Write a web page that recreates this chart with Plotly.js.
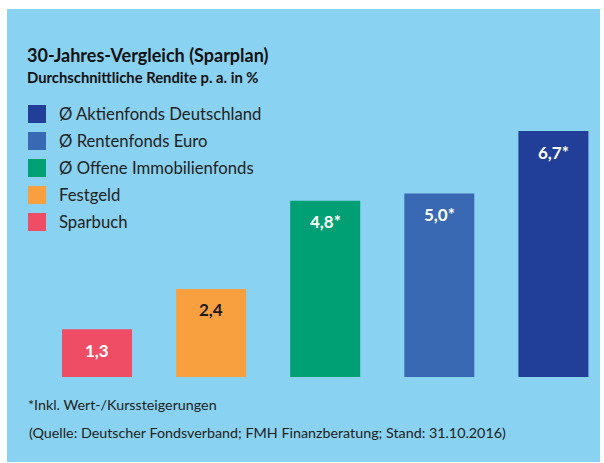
<!DOCTYPE html>
<html><head><meta charset="utf-8">
<script src="https://cdn.plot.ly/plotly-3.0.1.min.js"></script>
<style>html,body{margin:0;padding:0;background:#fff}#chart{width:604px;height:463px}</style>
</head><body><div id="chart"></div>
<script>
// Data
const categories = ["Sparbuch", "Festgeld", "Ø Offene Immobilienfonds", "Ø Rentenfonds Euro", "Ø Aktienfonds Deutschland"];
const values = [1.3, 2.4, 4.8, 5.0, 6.7];
const valueLabels = ["1,3", "2,4", "4,8*", "5,0*", "6,7*"];
const colors = ["#ef4d65", "#f8a03f", "#009f74", "#3a69b4", "#213f98"];
const labelColors = ["#ffffff", "#1a1a1a", "#ffffff", "#ffffff", "#ffffff"];
const legendOrder = [4, 3, 2, 1, 0];
const titleText = "30-Jahres-Vergleich (Sparplan)";
const subtitleText = "Durchschnittliche Rendite p. a. in %";
const footnote = "*Inkl. Wert-/Kurssteigerungen";
const source = "(Quelle: Deutscher Fondsverband; FMH Finanzberatung; Stand: 31.10.2016)";

const W = 604, H = 463;
const px = x => x / W;
const py = y => 1 - y / H;
const FONT = "Lato, 'Open Sans', sans-serif";

const xs = categories.map((c, i) => i);
const trace = {
  type: "bar", x: xs, y: values, marker: {color: colors, line: {width: 0}},
  hoverinfo: "skip", showlegend: false
};

const annotations = [];
const shapes = [];
// panel background
shapes.push({type: "rect", xref: "paper", yref: "paper", x0: px(7), x1: px(600), y0: py(462), y1: py(9),
  fillcolor: "#89d2f1", line: {width: 0}, layer: "below"});

// value labels
values.forEach((v, i) => {
  annotations.push({x: i, y: v, xref: "x", yref: "y", text: "<b>" + valueLabels[i] + "</b>",
    showarrow: false, yanchor: "middle", xanchor: "center", yshift: -21,
    font: {family: FONT, size: 17, color: labelColors[i]}});
});

// title
annotations.push({xref: "paper", yref: "paper", x: px(26), y: py(55.5), xanchor: "left", yanchor: "middle",
  borderpad: 0, text: "<b>" + titleText + "</b>", showarrow: false, font: {family: FONT, size: 18, color: "#111"}});
annotations.push({xref: "paper", yref: "paper", x: px(26), y: py(76.5), xanchor: "left", yanchor: "middle",
  borderpad: 0, text: "<b>" + subtitleText + "</b>", showarrow: false, font: {family: FONT, size: 14.8, color: "#111"}});

// legend (manual)
legendOrder.forEach((idx, r) => {
  const cy = 114 + r * 27;
  shapes.push({type: "rect", xref: "paper", yref: "paper", x0: px(28), x1: px(46), y0: py(cy + 9), y1: py(cy - 9),
    fillcolor: colors[idx], line: {width: 0}});
  annotations.push({xref: "paper", yref: "paper", x: px(57), y: py(cy), xanchor: "left", yanchor: "middle",
    text: categories[idx], showarrow: false, font: {family: FONT, size: 16.7, color: "#222"}});
});

// footnotes
annotations.push({xref: "paper", yref: "paper", x: px(26), y: py(404), xanchor: "left", yanchor: "middle",
  text: footnote, showarrow: false, font: {family: FONT, size: 14.3, color: "#222"}});
annotations.push({xref: "paper", yref: "paper", x: px(27), y: py(432), xanchor: "left", yanchor: "middle",
  text: source, showarrow: false, font: {family: FONT, size: 14.3, color: "#222"}});

const step = 114.1;
const layout = {
  width: W, height: H,
  margin: {l: 0, r: 0, t: 0, b: 0, pad: 0},
  paper_bgcolor: "#ffffff", plot_bgcolor: "rgba(0,0,0,0)",
  bargap: 1 - 70 / step,
  xaxis: {range: [(0 - 97) / step, (W - 97) / step], visible: false, fixedrange: true},
  yaxis: {range: [-(H - 377) / 36.7, 377 / 36.7], visible: false, fixedrange: true},
  shapes: shapes, annotations: annotations, showlegend: false
};
Plotly.newPlot("chart", [trace], layout, {displayModeBar: false, staticPlot: true});
</script></body></html>
